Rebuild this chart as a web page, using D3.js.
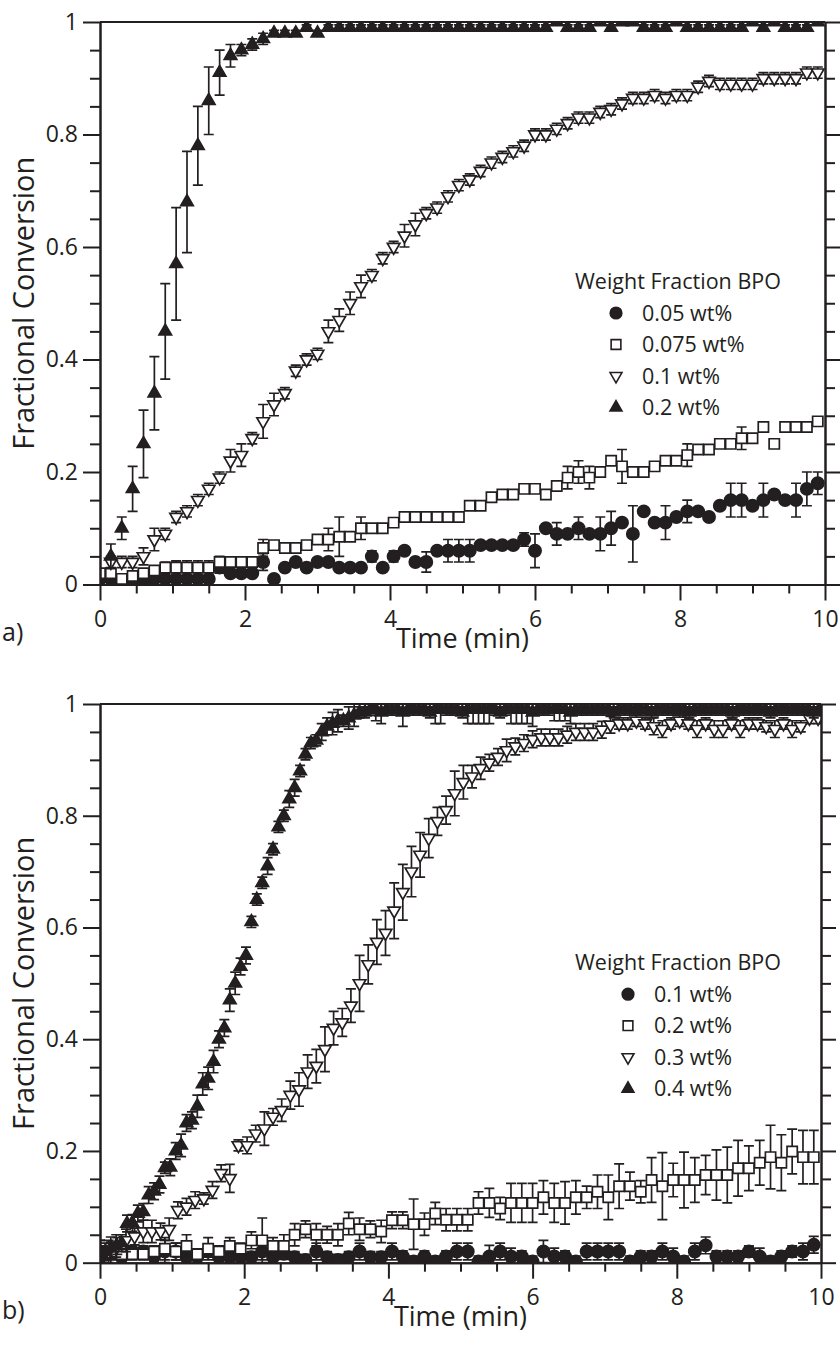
<!DOCTYPE html>
<html>
<head>
<meta charset="utf-8">
<script src="https://cdn.jsdelivr.net/npm/d3@7"></script>
<style>
  body { margin: 0; background: #fff; }
  text { font-family: "Open Sans", "DejaVu Sans", sans-serif; fill: #231f20; }
</style>
</head>
<body>
<svg id="chart"></svg>
<script>
// sampling times (min)
var time15 = [0,0.15,0.3,0.45,0.6,0.75,0.9,1.05,1.2,1.35,1.5,1.65,1.8,1.95,2.1,2.25,2.4,2.55,2.7,2.85,3,3.15,3.3,3.45,3.6,3.75,3.9,4.05,4.2,4.35,4.5,4.65,4.8,4.95,5.1,5.25,5.4,5.55,5.7,5.85,6,6.15,6.3,6.45,6.6,6.75,6.9,7.05,7.2,7.35,7.5,7.65,7.8,7.95,8.1,8.25,8.4,8.55,8.7,8.85,9,9.15,9.3,9.45,9.6,9.75,9.9];
var time12 = [0,0.12,0.24,0.36,0.48,0.6,0.72,0.84,0.96,1.08,1.2,1.32,1.44,1.56,1.68,1.8,1.92,2.04,2.16,2.28,2.4,2.52,2.64,2.76,2.88,3,3.12,3.24,3.36,3.48,3.6,3.72,3.84,3.96,4.08,4.2,4.32,4.44,4.56,4.68,4.8,4.92,5.04,5.16,5.28,5.4,5.52,5.64,5.76,5.88,6,6.12,6.24,6.36,6.48,6.6,6.72,6.84,6.96,7.08,7.2,7.32,7.44,7.56,7.68,7.8,7.92,8.04,8.16,8.28,8.4,8.52,8.64,8.76,8.88,9,9.12,9.24,9.36,9.48,9.6,9.72,9.84,9.96];
var time075 = [0,0.075,0.15,0.225,0.3,0.375,0.45,0.525,0.6,0.675,0.75,0.825,0.9,0.975,1.05,1.125,1.2,1.275,1.35,1.425,1.5,1.575,1.65,1.725,1.8,1.875,1.95,2.025,2.1,2.175,2.25,2.325,2.4,2.475,2.55,2.625,2.7,2.775,2.85,2.925,3,3.075,3.15,3.225,3.3,3.375,3.45,3.525,3.6,3.675,3.75,3.825,3.9,3.975,4.05,4.125,4.2,4.275,4.35,4.425,4.5,4.575,4.65,4.725,4.8,4.875,4.95,5.025,5.1,5.175,5.25,5.325,5.4,5.475,5.55,5.625,5.7,5.775,5.85,5.925,6,6.075,6.15,6.225,6.3,6.375,6.45,6.525,6.6,6.675,6.75,6.825,6.9,6.975,7.05,7.125,7.2,7.275,7.35,7.425,7.5,7.575,7.65,7.725,7.8,7.875,7.95,8.025,8.1,8.175,8.25,8.325,8.4,8.475,8.55,8.625,8.7,8.775,8.85,8.925,9,9.075,9.15,9.225,9.3,9.375,9.45,9.525,9.6,9.675,9.75,9.825,9.9,9.975];

// panel a) fractional conversion
var a005 = [0.01,0.01,0.005,0.005,0.005,0.01,0.01,0.01,0.01,0.01, 0.01,0.03,0.02,0.02,0.02,0.04,0.01,0.03,0.04,0.03, 0.04,0.04,0.03,0.03,0.03,0.05,0.03,0.05,0.06,0.04, 0.04,0.06,0.06,0.06,0.06,0.07,0.07,0.07,0.07,0.08, 0.06,0.10,0.09,0.09,0.10,0.09,0.09,0.10,0.11,0.09, 0.13,0.11,0.11,0.12,0.13,0.13,0.12,0.14,0.15,0.15, 0.14,0.15,0.16,0.15,0.15,0.17,0.18];
var a005Err = [0,0,0,0,0,0,0,0.03,0,0, 0,0.01,0,0,0,0.015,0,0,0,0, 0,0,0,0,0,0.01,0,0.01,0,0, 0.018,0,0.02,0.02,0.02,0,0,0,0,0.012, 0.03,0,0.02,0,0.02,0,0.03,0.03,0,0.05, 0,0,0.03,0,0.02,0,0,0,0.03,0.03, 0,0.03,0,0,0.03,0.03,0.02];
var a0075 = [0.02,0.02,0.01,0.015,0.02,0.025,0.03,0.03,0.03,0.03, 0.03,0.04,0.04,0.04,0.04,0.065,0.07,0.065,0.065,0.07, 0.08,0.08,0.085,0.085,0.10,0.10,0.10,0.11,0.12,0.12, 0.12,0.12,0.12,0.12,0.14,0.14,0.155,0.16,0.16,0.17, 0.17,0.16,0.175,0.19,0.20,0.19,0.20,0.22,0.21,0.20, 0.20,0.21,0.22,0.22,0.23,0.24,0.24,0.25,0.25,0.26, 0.26,0.28,0.25,0.28,0.28,0.28,0.29];
var a0075Err = [0,0,0,0,0,0,0.01,0.012,0.012,0.012, 0.012,0.01,0,0,0,0.015,0,0,0,0, 0,0.02,0.035,0,0.02,0,0,0,0,0, 0,0,0,0,0,0,0,0,0,0, 0,0,0,0.02,0.02,0.02,0,0,0.03,0, 0,0,0,0,0.02,0,0,0,0,0.02, 0,0,0,0,0,0,0];
var a01 = [null,0.04,0.04,0.04,0.05,0.08,0.09,0.12,0.13,0.15, 0.17,0.19,0.22,0.23,0.26,0.29,0.32,0.34,0.38,0.40, 0.41,0.45,0.47,0.50,0.53,0.55,0.58,0.60,0.62,0.64, 0.66,0.67,0.69,0.71,0.72,0.735,0.75,0.76,0.77,0.78, 0.80,0.80,0.81,0.82,0.83,0.83,0.84,0.845,0.855,0.865, 0.865,0.87,0.865,0.87,0.87,0.885,0.895,0.89,0.89,0.89, 0.89,0.90,0.90,0.90,0.90,0.91,0.91];
var a01Err = [0,0.01,0.01,0.01,0.015,0.02,0.01,0.01,0.01,0.01, 0.01,0.01,0.02,0.02,0.01,0.03,0.02,0.01,0.01,0.01, 0.01,0.02,0.02,0.02,0.02,0.01,0.01,0.01,0.02,0.02, 0.01,0.01,0.01,0.01,0.01,0.01,0.01,0.01,0.01,0.01, 0.01,0.01,0.01,0.01,0.01,0.01,0.01,0.01,0.01,0.01, 0.01,0.01,0.01,0.01,0.01,0.01,0.01,0.01,0.01,0.01, 0.01,0.01,0.01,0.01,0.01,0.01,0.01];
var a02 = [null,0.05,0.10,0.17,0.25,0.34,0.45,0.57,0.68,0.78, 0.86,0.91,0.94,0.95,0.96,0.97,0.98,0.98,0.98,0.99, 0.98,0.99,0.99,0.99,0.99,0.99,0.99,0.99,0.99,0.99, 0.99,0.99,0.99,0.99,0.99,0.99,0.99,0.99,0.99,0.99, 0.99,0.99,1.0,0.99,0.99,0.99,1.0,0.99,1.0,1.0, 0.99,0.99,0.99,1.0,0.99,0.99,0.99,0.99,0.99,0.99, 1.0,0.99,1.0,0.99,0.99,0.99,1.0];
var a02Err = [0,0.022,0.02,0.04,0.06,0.065,0.085,0.1,0.09,0.07, 0.06,0.04,0.02,0.01,0.01,0.01,0.005,0.005,0.005,0.005, 0.005,0.005,0.005,0.005,0.005,0.005,0.005,0.005,0.005,0.005, 0.005,0.005,0.005,0.005,0.005,0.005,0.005,0.005,0.005,0.005, 0.005,0.005,0.005,0.005,0.005,0.005,0.005,0.005,0.005,0.005, 0.005,0.005,0.005,0.005,0.005,0.005,0.005,0.005,0.005,0.005, 0.005,0.005,0.005,0.005,0.005,0.005,0.005];

// panel b) fractional conversion
var b01 = [0.01,0.017,0.01,0.02,0.02,0.011,0.02,0.02,0.01,0.011, 0.02,0.01,0.01,0.01,0.01,0.02,0.01,0.016,0.01,0.005, 0.02,0.01,0.005,0.01,0.02,0.01,0.01,0.02,0.011,0.002, 0.011,0.002,0.011,0.02,0.02,0.002,0.011,0.02,0.011,0.011, 0.002,0.02,0.011,0.011,0.002,0.02,0.02,0.02,0.02,0.002, 0.011,0.011,0.02,0.011,0.002,0.02,0.031,0.011,0.011,0.011, 0.02,0.011,0.002,0.011,0.02,0.02,0.032];
var b01Err = [0.02,0.02,0.01,0.01,0.01,0.01,0.02,0.015,0.01,0.01, 0.01,0.015,0.01,0.01,0.01,0.015,0.01,0.01,0.01,0.01, 0.015,0.01,0.01,0.01,0.015,0.01,0.01,0.015,0.01,0.01, 0.01,0.01,0.01,0.015,0.015,0.01,0.02,0.015,0.015,0.01, 0.01,0.02,0.015,0.01,0.01,0.015,0.015,0.015,0.015,0.01, 0.01,0.01,0.015,0.015,0.01,0.015,0.015,0.01,0.01,0.01, 0.01,0.015,0.01,0.01,0.01,0.015,0.015];
var b02 = [0.02,0.02,0.015,0.015,0.015,0.02,0.025,0.02,0.03,0.015, 0.025,0.02,0.03,0.025,0.04,0.04,0.03,0.03,0.05,0.06, 0.05,0.05,0.05,0.07,0.06,0.06,0.056,0.076,0.076,0.069, 0.069,0.088,0.077,0.077,0.077,0.107,0.107,0.097,0.107,0.107, 0.107,0.117,0.107,0.107,0.117,0.117,0.127,0.117,0.137,0.137, 0.127,0.148,0.137,0.148,0.148,0.148,0.157,0.157,0.157,0.169, 0.169,0.179,0.189,0.179,0.199,0.189,0.189];
var b02Err = [0.02,0.015,0.01,0.01,0.01,0.01,0.02,0.015,0.02,0.01, 0.02,0.01,0.015,0.01,0.015,0.04,0.015,0.02,0.02,0.015, 0.02,0.015,0.02,0.02,0.02,0.015,0.02,0.015,0.015,0.045, 0.02,0.02,0.02,0.02,0.02,0.02,0.026,0.02,0.035,0.035, 0.035,0.03,0.035,0.038,0.03,0.02,0.03,0.04,0.04,0.025, 0.02,0.04,0.06,0.03,0.05,0.04,0.035,0.045,0.05,0.05, 0.04,0.04,0.057,0.05,0.04,0.048,0.048];
var b03 = [0.02,0.02,0.03,0.04,0.047,0.056,0.056,0.056,0.06,0.094, 0.1,0.112,0.115,0.13,0.16,0.151,0.21,0.21,0.231,0.24, 0.261,0.273,0.3,0.31,0.342,0.352,0.382,0.42,0.43,0.46, 0.5,0.534,0.574,0.59,0.63,0.663,0.7,0.73,0.76,0.79, 0.81,0.84,0.86,0.87,0.885,0.895,0.905,0.917,0.924,0.93, 0.937,0.94,0.94,0.94,0.945,0.95,0.95,0.95,0.954,0.963, 0.965,0.965,0.97,0.965,0.96,0.955,0.965,0.97,0.965,0.955, 0.965,0.955,0.955,0.965,0.955,0.965,0.965,0.96,0.955,0.965, 0.955,0.96,0.975,0.975];
var b03Err = [0.02,0.02,0.015,0.02,0.015,0.02,0.02,0.015,0.02,0.015, 0.015,0.015,0.01,0.015,0.015,0.025,0.01,0.015,0.015,0.03, 0.015,0.02,0.025,0.03,0.03,0.03,0.04,0.03,0.025,0.03, 0.05,0.035,0.04,0.04,0.05,0.05,0.045,0.04,0.035,0.025, 0.025,0.04,0.03,0.02,0.02,0.015,0.015,0.02,0.015,0.015, 0.015,0.015,0.015,0.015,0.015,0.015,0.015,0.015,0.015,0.015, 0.01,0.01,0.01,0.01,0.015,0.015,0.01,0.01,0.01,0.015, 0.01,0.015,0.015,0.01,0.015,0.01,0.01,0.01,0.015,0.01, 0.015,0.01,0.01,0.01];
var b04 = [0.01,0.02,0.026,0.03,0.035,0.07,0.071,0.088,0.091,0.121, 0.128,0.14,0.17,0.171,0.2,0.21,0.25,0.255,0.28,0.32, 0.33,0.36,0.4,0.42,0.47,0.5,0.53,0.55,0.61,0.65, 0.68,0.71,0.74,0.78,0.8,0.83,0.85,0.88,0.91,0.93, 0.935,0.95,0.96,0.965,0.97,0.97,0.975,0.98,0.985,0.985, 0.99,0.99,0.985,0.99,0.99,0.99,0.985,0.99,0.99,0.99, 0.99,0.985,0.99,0.99,0.99,0.99,0.99,0.985,0.99,0.99, 0.99,0.99,0.99,0.99,0.985,0.99,0.99,0.99,0.99,0.99, 0.985,0.99,0.99,0.99,0.99,0.99,0.99,0.985,0.99,0.99, 0.99,0.99,0.99,0.99,0.99,0.985,0.99,0.99,0.99,0.99, 0.99,0.99,0.985,0.99,0.99,0.99,0.99,0.99,0.99,0.985, 0.99,0.99,0.99,0.99,0.99,0.99,0.99,0.985,0.99,0.99, 0.99,0.99,0.99,0.99,0.985,0.99,0.99,0.99,0.99,0.99, 0.99,0.99,0.985,0.99];
var b04Err = [0.015,0.015,0.02,0.02,0.015,0.015,0.015,0.015,0.015,0.015, 0.015,0.015,0.01,0.015,0.015,0.02,0.015,0.015,0.02,0.02, 0.02,0.02,0.015,0.015,0.02,0.02,0.015,0.015,0.01,0.01, 0.01,0.015,0.01,0.01,0.01,0.015,0.015,0.01,0.01,0.01, 0.01,0.015,0.015,0.02,0.02,0.01,0.02,0.02,0.01,0.01, 0.01,0.02,0.02,0.01,0.01,0.01,0.025,0.01,0.01,0.01, 0.01,0.01,0.025,0.025,0.01,0.01,0.01,0.01,0.025,0.025, 0.025,0.025,0.025,0.01,0.01,0.01,0.025,0.025,0.025,0.025, 0.025,0.01,0.01,0.01,0.02,0.02,0.02,0.02,0.01,0.01, 0.01,0.01,0.01,0.01,0.01,0.01,0.01,0.01,0.01,0.01, 0.01,0.01,0.01,0.01,0.01,0.01,0.01,0.01,0.01,0.01, 0.01,0.01,0.01,0.01,0.01,0.01,0.01,0.01,0.01,0.01, 0.01,0.01,0.01,0.01,0.01,0.01,0.01,0.01,0.01,0.01, 0.01,0.01,0.01,0.01];

// axis ticks and legend labels
var yMajor = [0, 0.2, 0.4, 0.6, 0.8, 1];
var yMinor = [0.05,0.1,0.15,0.25,0.3,0.35,0.45,0.5,0.55,0.65,0.7,0.75,0.85,0.9,0.95];
var xMajor = [0, 2, 4, 6, 8, 10];
var xMinor = [0.5,1,1.5,2.5,3,3.5,4.5,5,5.5,6.5,7,7.5,8.5,9,9.5];
var labelsA = ["0.05 wt%", "0.075 wt%", "0.1 wt%", "0.2 wt%"];
var labelsB = ["0.1 wt%", "0.2 wt%", "0.3 wt%", "0.4 wt%"];

var ink = "#231f20";
var svg = d3.select("#chart").attr("width", 840).attr("height", 1351);

// marker shapes: circle, open square, open down-triangle, filled up-triangle
var markers = [
  {type: d3.symbolCircle, size: 118, fill: ink, rot: 0},
  {type: d3.symbolSquare, size: 105, fill: "#fff", rot: 0},
  {type: d3.symbolTriangle, size: 68, fill: "#fff", rot: 180},
  {type: d3.symbolTriangle, size: 68, fill: ink, rot: 0}
];

function drawPanel(p) {
  var x = d3.scaleLinear().domain([0, 10]).range([p.left, p.right]);
  var y = d3.scaleLinear().domain([0, 1]).range([p.bottom, p.top]);
  var g = svg.append("g");

  g.append("clipPath").attr("id", "clip-" + p.name)
    .append("rect")
    .attr("x", p.left).attr("y", p.top)
    .attr("width", p.right - p.left).attr("height", p.bottom - p.top);

  var plot = g.append("g").attr("clip-path", "url(#clip-" + p.name + ")");

  p.series.forEach(function(s, k) {
    var m = markers[k];
    var pts = s.t.map(function(t, i) { return {t: t, v: s.v[i], e: s.e[i]}; })
                 .filter(function(d) { return d.v != null; });

    plot.append("g").selectAll("path")
      .data(pts.filter(function(d) { return d.e > 0; }))
      .enter().append("path")
      .attr("d", function(d) {
        var cx = x(d.t), y1 = y(d.v + d.e), y2 = y(d.v - d.e);
        return "M" + (cx - 5) + "," + y1 + "H" + (cx + 5) +
               "M" + cx + "," + y1 + "V" + y2 +
               "M" + (cx - 5) + "," + y2 + "H" + (cx + 5);
      })
      .attr("fill", "none").attr("stroke", ink).attr("stroke-width", 1.7);

    plot.append("g").selectAll("path")
      .data(pts)
      .enter().append("path")
      .attr("d", d3.symbol().type(m.type).size(m.size))
      .attr("transform", function(d) {
        return "translate(" + x(d.t) + "," + y(d.v) + ") rotate(" + m.rot + ")";
      })
      .attr("fill", m.fill).attr("stroke", ink).attr("stroke-width", 1.7);
  });

  // axes
  function style(sel) {
    sel.selectAll("path, line").attr("stroke", ink).attr("stroke-width", 2);
    sel.selectAll("text").attr("font-size", 23).attr("font-family", null).attr("fill", ink);
  }
  g.append("g").attr("transform", "translate(" + p.left + ",0)")
    .call(d3.axisLeft(y).tickValues(yMinor).tickSize(10).tickSizeOuter(0).tickFormat(""))
    .call(style);
  g.append("g").attr("transform", "translate(" + p.left + ",0)")
    .call(d3.axisLeft(y).tickValues(yMajor).tickSize(17).tickSizeOuter(0).tickPadding(5).tickFormat(d3.format("~g")))
    .call(style);
  g.append("g").attr("transform", "translate(" + p.right + ",0)")
    .call(d3.axisRight(y).tickValues(yMinor).tickSize(10).tickSizeOuter(0).tickFormat(""))
    .call(style);
  g.append("g").attr("transform", "translate(" + p.right + ",0)")
    .call(d3.axisRight(y).tickValues(yMajor).tickSize(15).tickSizeOuter(0).tickFormat(""))
    .call(style);
  g.append("g").attr("transform", "translate(0," + p.bottom + ")")
    .call(d3.axisBottom(x).tickValues(xMinor).tickSize(9).tickSizeOuter(0).tickFormat(""))
    .call(style);
  g.append("g").attr("transform", "translate(0," + p.bottom + ")")
    .call(d3.axisBottom(x).tickValues(xMajor).tickSize(16).tickSizeOuter(0).tickPadding(10).tickFormat(d3.format("~g")))
    .call(style);
  g.append("line")
    .attr("x1", p.left).attr("x2", p.right)
    .attr("y1", p.top).attr("y2", p.top)
    .attr("stroke", ink).attr("stroke-width", 2);

  // titles
  g.append("text")
    .attr("x", (p.left + p.right) / 2).attr("y", p.bottom + 63)
    .attr("text-anchor", "middle").attr("font-size", 27)
    .text("Time (min)");
  g.append("text")
    .attr("transform", "translate(34," + (p.top + p.bottom) / 2 + ") rotate(-90)")
    .attr("text-anchor", "middle").attr("font-size", 29)
    .text("Fractional Conversion");
  g.append("text")
    .attr("x", 2).attr("y", p.bottom + 56)
    .attr("font-size", 25)
    .text(p.name + ")");

  // legend
  var lg = g.append("g");
  lg.append("text")
    .attr("x", 575).attr("y", p.legendY + 7.5)
    .attr("font-size", 21.5)
    .text("Weight Fraction BPO");
  p.labels.forEach(function(lab, k) {
    var m = markers[k];
    var cy = p.legendY + 31.5 * (k + 1);
    lg.append("path")
      .attr("d", d3.symbol().type(m.type).size(m.size * 0.9)())
      .attr("transform", "translate(" + p.legendSym + "," + cy + ") rotate(" + m.rot + ")")
      .attr("fill", m.fill).attr("stroke", ink).attr("stroke-width", 1.6);
    lg.append("text")
      .attr("x", p.legendSym + 26).attr("y", cy + 7.5)
      .attr("font-size", 21.5)
      .text(lab);
  });
}

drawPanel({
  name: "a", left: 100, right: 825, top: 22, bottom: 584.5,
  legendY: 281.5, legendSym: 616, labels: labelsA,
  series: [
    {t: time15, v: a005, e: a005Err},
    {t: time15, v: a0075, e: a0075Err},
    {t: time15, v: a01, e: a01Err},
    {t: time15, v: a02, e: a02Err}
  ]
});

drawPanel({
  name: "b", left: 100, right: 821, top: 704, bottom: 1262.7,
  legendY: 962.7, legendSym: 628, labels: labelsB,
  series: [
    {t: time15, v: b01, e: b01Err},
    {t: time15, v: b02, e: b02Err},
    {t: time12, v: b03, e: b03Err},
    {t: time075, v: b04, e: b04Err}
  ]
});
</script>
</body>
</html>
